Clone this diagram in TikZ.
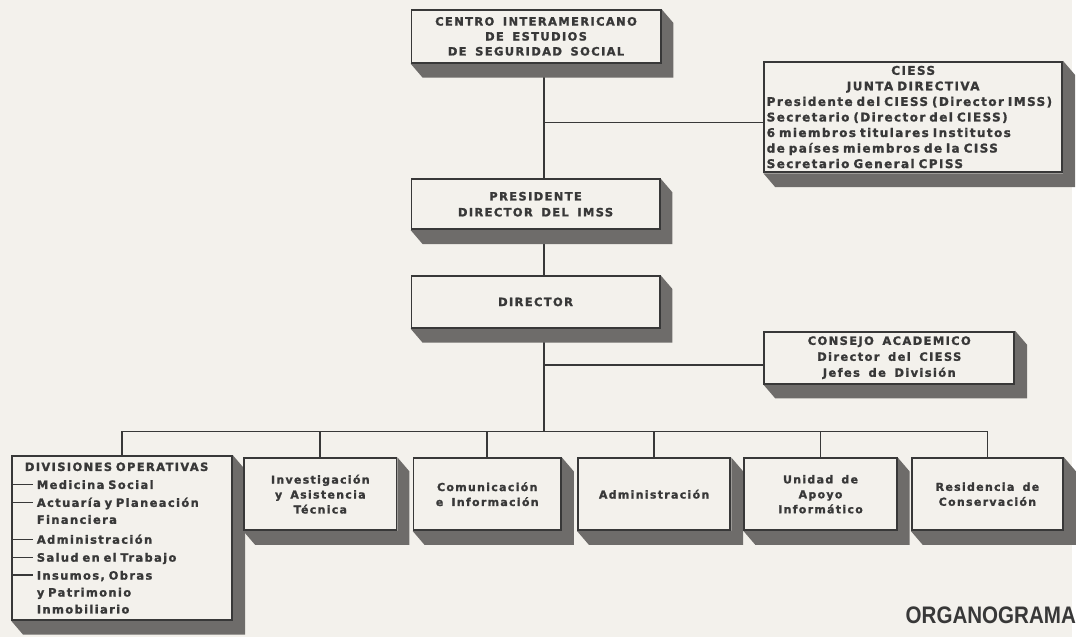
\documentclass[tikz,border=0pt]{standalone}
\usepackage{fontspec}
\setmainfont{DejaVu Sans}[LetterSpace=12,WordSpace=1.6,BoldFeatures={FakeBold=1.5}]
\newfontfamily\titlefont{Liberation Sans}
\usetikzlibrary{backgrounds}
\definecolor{paper}{HTML}{F3F1EC}
\definecolor{ink}{HTML}{383838}
\definecolor{shadowgray}{HTML}{6E6C6A}
\newcommand\divdash{\rule[0.3em]{20pt}{1.7pt}\hspace{4pt}}
\tikzset{
  box/.style={draw=ink,line width=1.8pt,fill=paper,inner sep=0pt,align=center,text=ink,
    font=\bfseries\fontsize{11.5}{16}\selectfont},
  unit/.style={box,minimum width=153pt,minimum height=72pt,font=\bfseries\fontsize{11}{15}\selectfont},
  link/.style={draw=ink,line width=1.8pt},
}

\begin{document}
\begin{tikzpicture}[x=1pt,y=-1pt]
\begin{scope}[on background layer]\fill[paper](0,0)rectangle(1076,639);\end{scope}
% upper chain
\node[box,minimum width=250pt,minimum height=53pt,font=\bfseries\fontsize{11.5}{15}\selectfont](centro)at(538,36.5){CENTRO INTERAMERICANO\\DE ESTUDIOS\\DE SEGURIDAD SOCIAL};
\node[box,minimum width=299pt,minimum height=111pt,text width=294pt,align=left,font=\bfseries\fontsize{12}{15.6}\selectfont](ciess)at(916.5,117.5){\hfill CIESS\hfill\null\\\hfill JUNTA DIRECTIVA\hfill\null\\Presidente del CIESS (Director IMSS)\\Secretario (Director del CIESS)\\6 miembros titulares Institutos\\de países miembros de la CISS\\Secretario General CPISS};
\node[box,minimum width=249pt,minimum height=50pt](presi)at(537.5,205){PRESIDENTE\\DIRECTOR DEL IMSS};
\node[box,minimum width=249pt,minimum height=52pt](director)at(537.5,303){DIRECTOR};
\node[box,minimum width=251pt,minimum height=52pt](consejo)at(892.5,359){CONSEJO ACADEMICO\\Director del CIESS\\Jefes de División};
% lower row
\node[box,minimum width=221pt,minimum height=164pt,text width=219pt,align=left,font=\bfseries\fontsize{11.5}{17}\selectfont](div)at(122.5,540){\hspace*{12pt}DIVISIONES OPERATIVAS\\[1pt]\divdash Medicina Social\\[1pt]\divdash Actuaría y Planeación\\\hspace*{24pt}Financiera\\[3pt]\divdash Administración\\[1pt]\divdash Salud en el Trabajo\\[1pt]\divdash Insumos, Obras\\\hspace*{24pt}y Patrimonio\\\hspace*{24pt}Inmobiliario};
\node[unit](inv)at(321.5,496){Investigación\\y Asistencia\\Técnica};
\node[unit,minimum width=148pt](com)at(489,496){Comunicación\\e Información};
\node[unit](adm)at(656.5,496){Administración};
\node[unit](uni)at(823.5,496){Unidad de\\Apoyo\\Informático};
\node[unit,minimum width=152pt](res)at(991,496){Residencia de\\Conservación};
\node[anchor=east,inner sep=0pt,text=ink,font=\titlefont\bfseries\fontsize{24}{24}\selectfont](titulo)at(1080,617){\scalebox{0.86}[1]{ORGANOGRAMA}};
\coordinate(spine)at(546,0);
\coordinate(bus)at(0,433);
\begin{scope}[on background layer]
\draw[link](centro.south-|spine)--(presi.north-|spine);
\draw[link](presi.south-|spine)--(director.north-|spine);
\draw[link](director.south-|spine)--(bus-|spine);
\draw[link]([yshift=-5.5pt]ciess.west)--([yshift=-5.5pt]ciess.west-|spine);
\draw[link]([yshift=-7pt]consejo.west)--([yshift=-7pt]consejo.west-|spine);
\draw[link](div.north|-bus)--(res.north|-bus);
\foreach\n in{div,inv,com,adm,uni,res}\draw[link](\n.north|-bus)--(\n.north);
% extruded shadows
\foreach\n in{centro,ciess,presi,director,consejo,div,inv,com,adm,uni,res}
  \fill[shadowgray](\n.south west)--++(12,14)--([shift={(12,14)}]\n.south east)--([shift={(12,14)}]\n.north east)--(\n.north east)--(\n.south east)--cycle;
\end{scope}
\end{tikzpicture}
\end{document}
